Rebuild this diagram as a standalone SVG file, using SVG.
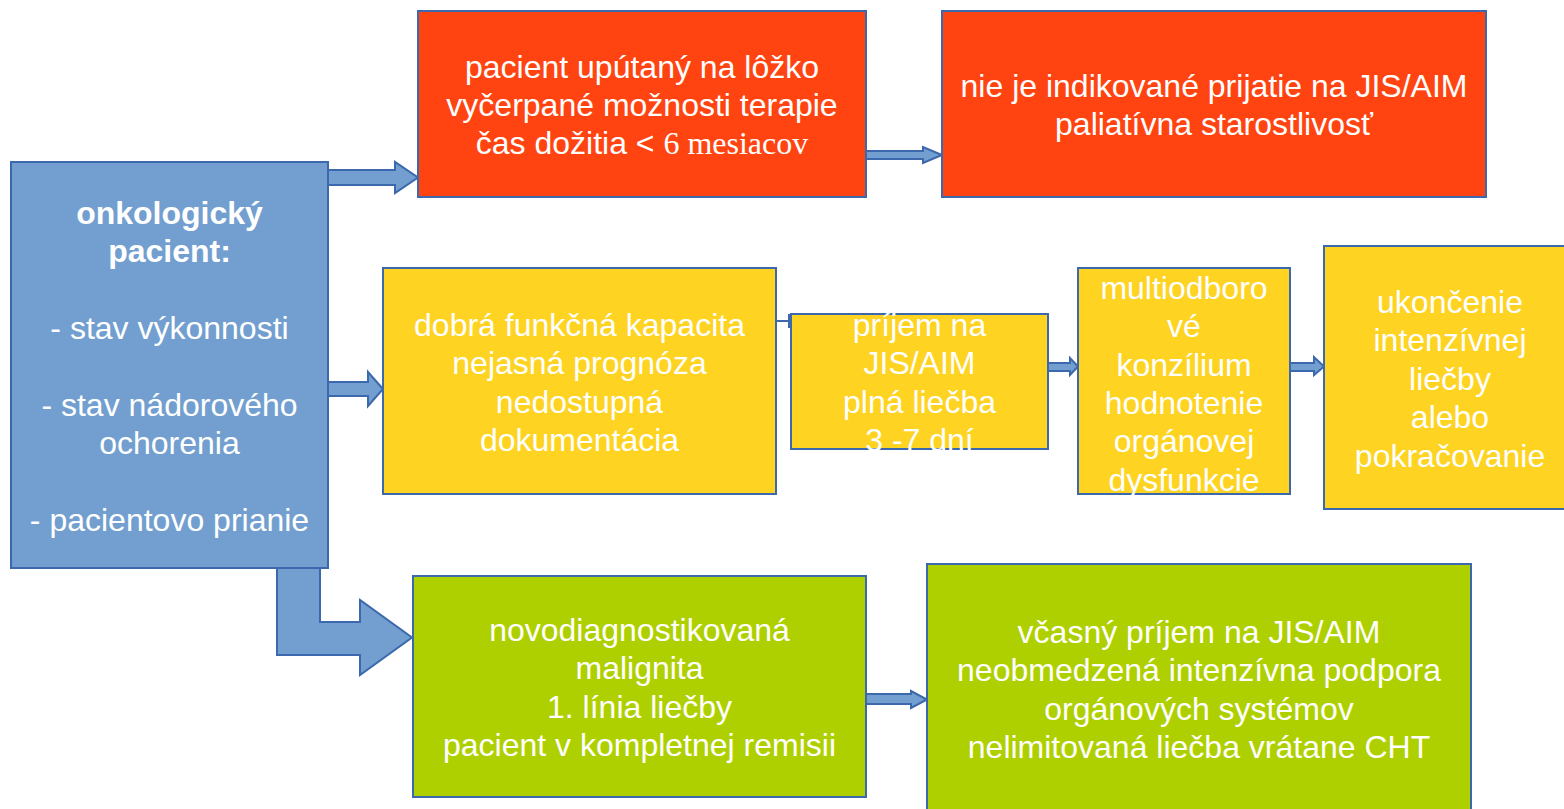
<svg xmlns="http://www.w3.org/2000/svg" width="1564" height="809" viewBox="0 0 1564 809">
<style>
.box{stroke:#3c69ad;stroke-width:2}
.blue{fill:#729fcf}
.red{fill:#ff4411}
.yel{fill:#fed321}
.grn{fill:#afd000}
.arr{fill:#729fcf;stroke:#3c69ad;stroke-width:2;stroke-linejoin:miter}
text{font-family:"Liberation Sans",Arial,sans-serif;font-size:32px;fill:#ffffff;text-anchor:middle}
.serif{font-family:"Liberation Serif","Times New Roman",serif}
</style>
<rect width="1564" height="809" fill="#ffffff"/>
<g id="connectors">
<path class="arr" d="M328,170 H395 V162 L418,177.5 L395,193 V185 H328 Z"/>
<path class="arr" d="M328,382 H368 V372 L383,389 L368,406 V396 H328 Z"/>
<path class="arr" d="M277,568 H320 V622 H360 V600 L412,637.5 L360,675 V655 H277 Z"/>
<path class="arr" d="M866,151 H923 V147 L942,155 L923,163 V159 H866 Z"/>
<path d="M776,321 H789 M789,314 V328" fill="none" stroke="#3c69ad" stroke-width="2"/>
<path class="arr" d="M1048,363 H1070 V358 L1078,366.5 L1070,375 V371 H1048 Z"/>
<path class="arr" d="M1290,363 H1314 V357 L1324,366.5 L1314,375 V371 H1290 Z"/>
<path class="arr" d="M866,694 H911 V691 L927,699.5 L911,708 V704 H866 Z"/>
</g>
<g id="onkologicky">
<rect class="box blue" x="11" y="162" width="317" height="406"/>
<text x="169.5" y="224" font-weight="bold">onkologický</text>
<text x="169.5" y="262.4" font-weight="bold">pacient:</text>
<text x="169.5" y="339.2">- stav výkonnosti</text>
<text x="169.5" y="416">- stav nádorového</text>
<text x="169.5" y="454.4">ochorenia</text>
<text x="169.5" y="531.2">- pacientovo prianie</text>
</g>
<g id="red1">
<rect class="box red" x="418" y="11" width="448" height="186"/>
<text x="642" y="77.5">pacient upútaný na lôžko</text>
<text x="642" y="116">vyčerpané možnosti terapie</text>
<text x="642" y="154.4">čas dožitia &lt; <tspan class="serif">6 mesiacov</tspan></text>
</g>
<g id="red2">
<rect class="box red" x="942" y="11" width="544" height="186"/>
<text x="1214" y="97">nie je indikované prijatie na JIS/AIM</text>
<text x="1214" y="135.4">paliatívna starostlivosť</text>
</g>
<g id="yellow1">
<rect class="box yel" x="383" y="268" width="393" height="226"/>
<text x="579.5" y="336">dobrá funkčná kapacita</text>
<text x="579.5" y="374.4">nejasná prognóza</text>
<text x="579.5" y="412.8">nedostupná</text>
<text x="579.5" y="451.2">dokumentácia</text>
</g>
<g id="yellow2">
<rect class="box yel" x="791" y="314" width="257" height="135"/>
<text x="919.5" y="336">príjem na</text>
<text x="919.5" y="374.4">JIS/AIM</text>
<text x="919.5" y="412.8">plná liečba</text>
<text x="919.5" y="451.2">3 -7 dní</text>
</g>
<g id="yellow3">
<rect class="box yel" x="1078" y="268" width="212" height="226"/>
<text x="1184" y="298.8">multiodboro</text>
<text x="1184" y="337.2">vé</text>
<text x="1184" y="375.6">konzílium</text>
<text x="1184" y="414">hodnotenie</text>
<text x="1184" y="452.4">orgánovej</text>
<text x="1184" y="490.8">dysfunkcie</text>
</g>
<g id="yellow4">
<rect class="box yel" x="1324" y="246" width="252" height="263"/>
<text x="1450" y="313">ukončenie</text>
<text x="1450" y="351.4">intenzívnej</text>
<text x="1450" y="389.8">liečby</text>
<text x="1450" y="428.2">alebo</text>
<text x="1450" y="466.6">pokračovanie</text>
</g>
<g id="green1">
<rect class="box grn" x="413" y="576" width="453" height="221"/>
<text x="639.5" y="641">novodiagnostikovaná</text>
<text x="639.5" y="679.4">malignita</text>
<text x="639.5" y="717.8">1. línia liečby</text>
<text x="639.5" y="756.2">pacient v kompletnej remisii</text>
</g>
<g id="green2">
<rect class="box grn" x="927" y="564" width="544" height="260"/>
<text x="1199" y="643">včasný príjem na JIS/AIM</text>
<text x="1199" y="681.4">neobmedzená intenzívna podpora</text>
<text x="1199" y="719.8">orgánových systémov</text>
<text x="1199" y="758.2">nelimitovaná liečba vrátane CHT</text>
</g>
</svg>
